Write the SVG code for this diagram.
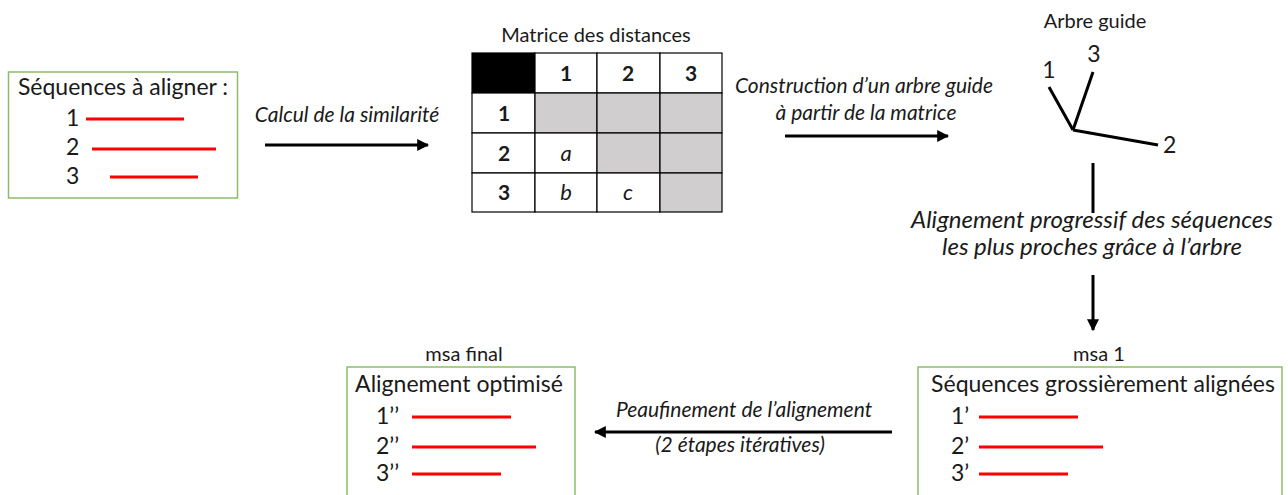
<svg xmlns="http://www.w3.org/2000/svg" width="1288" height="495" viewBox="0 0 1288 495">
<style>
text{font-family:Lato,"Liberation Sans",sans-serif;fill:#1a1a1a}
.box{fill:#fff;stroke:#8cbd6a;stroke-width:1.5}
.seq{stroke:#ff0000;stroke-width:3}
.t20{font-size:23px}
.t17{font-size:20px}
.it{font-style:italic;font-size:21px}
.itl{font-style:italic;font-size:24px}
.cell{fill:#fff;stroke:#000;stroke-width:1.2}
.grey{fill:#d0cece;stroke:#000;stroke-width:1.2}
.blk{fill:#000;stroke:#000;stroke-width:1.2}
.hd{font-size:21px;font-weight:bold;text-anchor:middle}
.ci{font-size:22px;font-style:italic;text-anchor:middle}
.arr{stroke:#000;stroke-width:3;fill:none;marker-end:url(#ah)}
.tree{stroke:#000;stroke-width:3;fill:none}
</style>
<defs>
<marker id="ah" viewBox="0 0 10 10" refX="9" refY="5" markerWidth="4" markerHeight="4" orient="auto" markerUnits="strokeWidth">
<path d="M0,0 L10,5 L0,10 z" fill="#000"/>
</marker>
</defs>

<g id="node-sequences">
<rect class="box" x="8.5" y="72" width="229" height="126"/>
<text class="t20" x="123" y="95" text-anchor="middle">Séquences à aligner :</text>
<text class="t20" x="66" y="126">1</text>
<line class="seq" x1="86" y1="119" x2="184" y2="119"/>
<text class="t20" x="66" y="155">2</text>
<line class="seq" x1="92" y1="149" x2="216" y2="149"/>
<text class="t20" x="66" y="184">3</text>
<line class="seq" x1="110" y1="177" x2="198" y2="177"/>
</g>

<g id="node-matrix">
<text class="t17" x="596" y="42" text-anchor="middle">Matrice des distances</text>
<rect class="blk" x="472" y="53" width="63" height="40"/>
<rect class="cell" x="535" y="53" width="62" height="40"/>
<rect class="cell" x="597" y="53" width="63" height="40"/>
<rect class="cell" x="660" y="53" width="62" height="40"/>
<rect class="cell" x="472" y="93" width="63" height="40"/>
<rect class="grey" x="535" y="93" width="62" height="40"/>
<rect class="grey" x="597" y="93" width="63" height="40"/>
<rect class="grey" x="660" y="93" width="62" height="40"/>
<rect class="cell" x="472" y="133" width="63" height="40"/>
<rect class="cell" x="535" y="133" width="62" height="40"/>
<rect class="grey" x="597" y="133" width="63" height="40"/>
<rect class="grey" x="660" y="133" width="62" height="40"/>
<rect class="cell" x="472" y="173" width="63" height="39"/>
<rect class="cell" x="535" y="173" width="62" height="39"/>
<rect class="cell" x="597" y="173" width="63" height="39"/>
<rect class="grey" x="660" y="173" width="62" height="39"/>
<text class="hd" x="566" y="81">1</text>
<text class="hd" x="628" y="81">2</text>
<text class="hd" x="691" y="81">3</text>
<text class="hd" x="504" y="121">1</text>
<text class="hd" x="504" y="161">2</text>
<text class="hd" x="504" y="200">3</text>
<text class="ci" x="566" y="161">a</text>
<text class="ci" x="566" y="200">b</text>
<text class="ci" x="628" y="200">c</text>
</g>

<g id="node-tree">
<text class="t17" x="1095" y="28" text-anchor="middle">Arbre guide</text>
<line class="tree" x1="1049" y1="87" x2="1073" y2="130"/>
<line class="tree" x1="1093" y1="72" x2="1073" y2="130"/>
<line class="tree" x1="1073" y1="130" x2="1158" y2="145"/>
<text class="t20" x="1049" y="78" text-anchor="middle">1</text>
<text class="t20" x="1094" y="62" text-anchor="middle">3</text>
<text class="t20" x="1163" y="153">2</text>
</g>

<g id="node-msa1">
<text class="t17" x="1099" y="361" text-anchor="middle">msa 1</text>
<rect class="box" x="918" y="367" width="364" height="140"/>
<text class="t20" x="1103" y="392" text-anchor="middle">Séquences grossièrement alignées</text>
<text class="t20" x="951" y="424">1’</text>
<line class="seq" x1="979" y1="417" x2="1078" y2="417"/>
<text class="t20" x="951" y="454">2’</text>
<line class="seq" x1="979" y1="447" x2="1103" y2="447"/>
<text class="t20" x="951" y="481">3’</text>
<line class="seq" x1="979" y1="474" x2="1068" y2="474"/>
</g>

<g id="node-final">
<text class="t17" x="464" y="361" text-anchor="middle">msa final</text>
<rect class="box" x="347" y="367" width="228" height="140"/>
<text class="t20" x="459" y="392" text-anchor="middle">Alignement optimisé</text>
<text class="t20" x="376" y="424">1’’</text>
<line class="seq" x1="412" y1="417" x2="511" y2="417"/>
<text class="t20" x="376" y="454">2’’</text>
<line class="seq" x1="412" y1="447" x2="536" y2="447"/>
<text class="t20" x="376" y="481">3’’</text>
<line class="seq" x1="412" y1="474" x2="501" y2="474"/>
</g>

<g id="connectors">
<line class="arr" x1="265" y1="145" x2="428" y2="145"/>
<text class="it" x="347" y="122" text-anchor="middle">Calcul de la similarité</text>
<line class="arr" x1="785" y1="136" x2="948" y2="136"/>
<text class="it" x="864" y="93" text-anchor="middle">Construction d’un arbre guide</text>
<text class="it" x="866" y="120" text-anchor="middle">à partir de la matrice</text>
<line style="stroke:#000;stroke-width:3" x1="1093" y1="163" x2="1093" y2="213"/>
<text class="itl" x="1092" y="228" text-anchor="middle">Alignement progressif des séquences</text>
<text class="itl" x="1092" y="255" text-anchor="middle">les plus proches grâce à l’arbre</text>
<line class="arr" x1="1093" y1="275" x2="1093" y2="330"/>
<line class="arr" x1="892" y1="432" x2="595" y2="432"/>
<text class="it" x="744" y="417" text-anchor="middle">Peaufinement de l’alignement</text>
<text class="it" x="740" y="452" text-anchor="middle">(2 étapes itératives)</text>
</g>
</svg>
